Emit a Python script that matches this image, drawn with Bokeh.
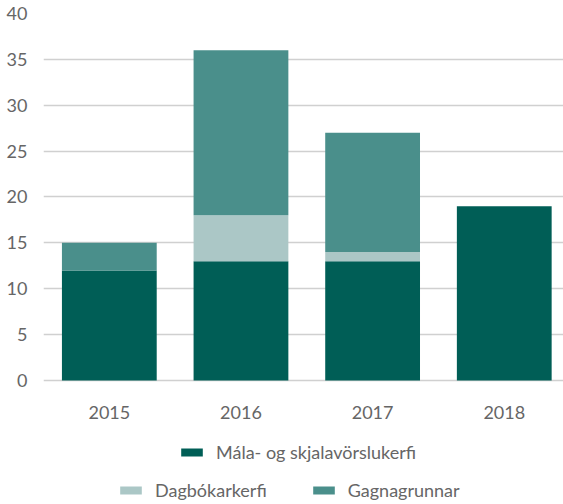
from bokeh.plotting import figure
from bokeh.models import Range1d, FixedTicker, Legend, LegendItem, ColumnDataSource
from bokeh.embed import file_html
from bokeh.resources import INLINE

years = ["2015", "2016", "2017", "2018"]
mala = [12, 13, 13, 19]
dagbok = [0, 5, 1, 0]
gagna = [3, 18, 13, 0]
series = ["Mála- og skjalavörslukerfi", "Dagbókarkerfi", "Gagnagrunnar"]
colors = ["#005E56", "#ABC7C6", "#4A8F8B"]
y_ticks = [0, 5, 10, 15, 20, 25, 30, 35, 40]

xpos = [i + 0.5 for i in range(len(years))]
src = ColumnDataSource(dict(x=xpos, mala=mala, dagbok=dagbok, gagna=gagna))
lab_src = ColumnDataSource(dict(x=xpos, y=[0] * len(years), t=years))

FONT = "Lato"
GRAY = "#666666"

p = figure(width=563, height=504, output_backend="svg", toolbar_location=None,
           x_range=Range1d(0, 3.95), y_range=Range1d(-13.515, 40),
           min_border_left=43, min_border_right=0, min_border_top=13, min_border_bottom=0)
p.outline_line_color = None
p.background_fill_color = "white"

r = p.vbar_stack(["mala", "dagbok", "gagna"], x="x", width=0.72, source=src,
                 color=colors, line_color=None)

# category labels under the bars
p.text(x="x", y="y", text="t", source=lab_src, text_align="center",
       text_baseline="alphabetic", y_offset=32, text_font_size="18px",
       text_font={"value": FONT}, text_color=GRAY)

p.xaxis.visible = False
p.yaxis.ticker = FixedTicker(ticks=y_ticks)
p.yaxis.axis_line_color = None
p.yaxis.major_tick_line_color = None
p.yaxis.minor_tick_line_color = None
p.yaxis.major_label_text_font = FONT
p.yaxis.major_label_text_font_size = "18px"
p.yaxis.major_label_text_color = GRAY
p.yaxis.major_label_standoff = 10

p.xgrid.grid_line_color = None
p.ygrid.ticker = FixedTicker(ticks=y_ticks)
p.ygrid.grid_line_color = "#d0d0d0"
p.ygrid.grid_line_width = 1.5


def make_legend(items, loc):
    return Legend(items=items, location=loc, orientation="horizontal",
                  border_line_color=None, background_fill_alpha=0,
                  padding=0, margin=0, spacing=43, label_standoff=11,
                  glyph_width=27, glyph_height=10,
                  label_text_font=FONT, label_text_font_size="18px",
                  label_text_color=GRAY, label_height=20)


leg1 = make_legend([LegendItem(label=series[0], renderers=[r[0]])], (135, 41))
leg2 = make_legend([LegendItem(label=series[1], renderers=[r[1]]),
                    LegendItem(label=series[2], renderers=[r[2]])], (74, 3))
p.add_layout(leg1, "center")
p.add_layout(leg2, "center")

open("out.html", "w").write(file_html(p, INLINE))
